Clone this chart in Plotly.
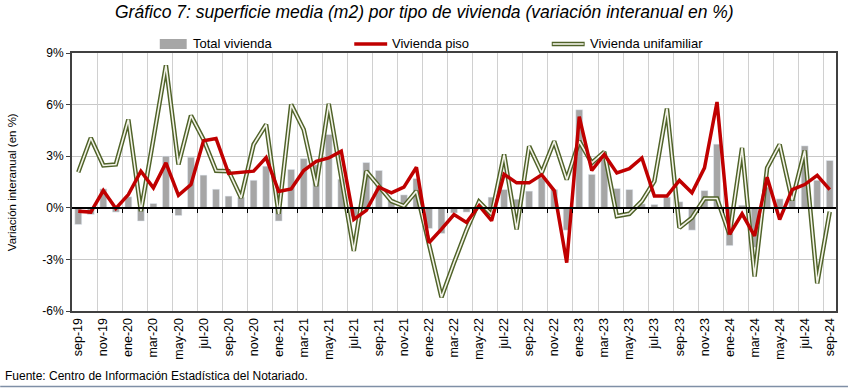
import plotly.graph_objects as go

months = ["sep-19","oct-19","nov-19","dic-19","ene-20","feb-20","mar-20","abr-20","may-20","jun-20","jul-20","ago-20",
          "sep-20","oct-20","nov-20","dic-20","ene-21","feb-21","mar-21","abr-21","may-21","jun-21","jul-21","ago-21",
          "sep-21","oct-21","nov-21","dic-21","ene-22","feb-22","mar-22","abr-22","may-22","jun-22","jul-22","ago-22",
          "sep-22","oct-22","nov-22","dic-22","ene-23","feb-23","mar-23","abr-23","may-23","jun-23","jul-23","ago-23",
          "sep-23","oct-23","nov-23","dic-23","ene-24","feb-24","mar-24","abr-24","may-24","jun-24","jul-24","ago-24",
          "sep-24"]

total_vivienda = [-0.97,-0.39,1.1,-0.25,0.64,-0.77,0.25,3.0,-0.45,2.94,1.9,1.08,
                  0.68,0.6,1.6,2.42,-0.77,2.23,2.86,2.5,4.26,1.66,-0.5,2.63,
                  2.17,0.5,0.75,1.7,-1.2,-1.49,-0.3,-0.25,0.1,0.62,1.06,0.5,
                  0.97,1.74,1.06,-1.3,5.7,1.94,2.8,1.12,1.06,0.23,0.19,0.62,
                  0.35,-1.3,1.0,3.7,-2.2,0.15,-2.3,1.2,0.52,0.8,3.6,1.6,
                  2.75]

vivienda_piso = [-0.2,-0.25,1.0,-0.04,0.77,2.13,1.16,2.61,0.72,1.35,3.9,4.03,
                 2.0,2.07,2.13,2.92,0.95,1.1,2.17,2.7,2.9,3.29,-0.68,-0.15,
                 1.2,0.87,1.2,2.36,-2.03,-1.24,-0.39,-0.85,0.12,-0.75,1.95,1.45,
                 1.45,1.92,1.0,-3.19,5.3,2.17,3.1,2.03,2.28,2.9,0.68,0.68,
                 1.59,0.87,2.32,6.15,-1.55,-0.35,-1.64,1.78,-0.68,1.06,1.35,1.88,
                 1.06]

vivienda_unifamiliar = [2.07,4.06,2.46,2.52,5.13,-0.19,4.0,8.28,2.52,5.36,3.97,2.15,
                        2.13,0.58,3.68,4.84,-0.35,6.0,4.55,1.26,6.04,1.72,-2.5,2.13,
                        1.26,0.39,0.1,0.97,-2.1,-5.2,-3.2,-1.3,0.36,-0.39,3.1,-1.26,
                        3.58,2.03,3.87,1.64,3.87,2.61,3.25,-0.48,-0.35,0.39,1.55,5.77,
                        -1.16,-0.58,0.54,0.54,-1.55,3.48,-4.0,2.32,3.68,0.43,3.33,-4.39,
                        -0.23]

y_ticks = [-6, -3, 0, 3, 6, 9]
y_tick_labels = ["-6%", "-3%", "0%", "3%", "6%", "9%"]

idx = list(range(len(months)))
label_idx = idx[::2]
label_text = [months[i] for i in label_idx]
boundaries = [i + 1.5 for i in range(0, len(months) - 2, 2)]

W, H = 850, 388
L, R, T, B = 72, 12, 53, 77
PW, PH = W - L - R, H - T - B

def px(x):
    return (x - L) / PW

def py(y):
    return (H - B - y) / PH

FONT = "Liberation Sans, Arial, sans-serif"
OLIVE = "#4F6228"
RED = "#C00000"
GRAY = "#A6A6A6"

fig = go.Figure()
fig.add_trace(go.Bar(x=idx, y=total_vivienda, name="Total vivienda", marker_color=GRAY,
                     width=0.55, showlegend=False))
fig.add_trace(go.Scatter(x=idx, y=vivienda_unifamiliar, mode="lines", name="Vivienda unifamiliar",
                         line=dict(color=OLIVE, width=4.5), showlegend=False))
fig.add_trace(go.Scatter(x=idx, y=vivienda_unifamiliar, mode="lines", hoverinfo="skip",
                         line=dict(color="#F4F4EA", width=1.6), showlegend=False))
fig.add_trace(go.Scatter(x=idx, y=vivienda_piso, mode="lines", name="Vivienda piso",
                         line=dict(color=RED, width=3.5), showlegend=False))

xr = [-0.5, len(months) - 0.5]
fig.update_layout(
    width=W, height=H,
    margin=dict(l=L, r=R, t=T, b=B),
    paper_bgcolor="white", plot_bgcolor="white",
    bargap=0.45,
    font=dict(family=FONT, size=11, color="black"),
    xaxis=dict(range=xr, tickmode="array", tickvals=label_idx, ticktext=label_text,
               tickangle=-90, showgrid=False, zeroline=False, ticks="",
               showline=True, linecolor="#404040", linewidth=2, mirror=True,
               tickfont=dict(family=FONT, size=12.5, color="black")),
    xaxis2=dict(range=xr, overlaying="x", anchor="free", position=6 / 15, side="bottom",
                tickmode="array", tickvals=boundaries, showticklabels=False,
                ticks="outside", ticklen=4, tickcolor="black", tickwidth=1,
                showgrid=True, gridcolor="#D0D0D0", gridwidth=1,
                showline=True, linecolor="black", linewidth=1.5, zeroline=False),
    yaxis=dict(range=[-6, 9], tickmode="array", tickvals=y_ticks, ticktext=y_tick_labels,
               showgrid=True, gridcolor="#C8C8C8", gridwidth=1, zeroline=False,
               showline=True, linecolor="#404040", linewidth=2, mirror=True,
               ticks="outside", ticklen=4, tickcolor="#404040",
               tickfont=dict(family=FONT, size=12, color="black")),
)
# invisible trace to keep xaxis2 active
fig.add_trace(go.Scatter(x=[xr[0]], y=[0], xaxis="x2", mode="lines", hoverinfo="skip",
                         line=dict(width=0), showlegend=False))

ann = []
ann.append(dict(text="<i>Gráfico 7: superficie media (m2) por tipo de vivienda (variación interanual en %)</i>",
                xref="paper", yref="paper", x=px(425), y=py(12), showarrow=False,
                xanchor="center", yanchor="middle", font=dict(family=FONT, size=17.5, color="black")))
ann.append(dict(text="Variación interanual (en %)", xref="paper", yref="paper",
                x=px(12), y=py(182), textangle=-90, showarrow=False,
                xanchor="center", yanchor="middle", font=dict(family=FONT, size=11.5)))
ann.append(dict(text="Fuente: Centro de Información Estadística del Notariado.", xref="paper", yref="paper",
                x=px(3), y=py(376), showarrow=False, xanchor="left", yanchor="middle",
                font=dict(family=FONT, size=12)))
# manual legend
leg_y = 44
ann.append(dict(text="Total vivienda", xref="paper", yref="paper", x=px(191), y=py(leg_y),
                showarrow=False, xanchor="left", yanchor="middle", font=dict(family=FONT, size=13)))
ann.append(dict(text="Vivienda piso", xref="paper", yref="paper", x=px(391), y=py(leg_y),
                showarrow=False, xanchor="left", yanchor="middle", font=dict(family=FONT, size=13)))
ann.append(dict(text="Vivienda unifamiliar", xref="paper", yref="paper", x=px(589), y=py(leg_y),
                showarrow=False, xanchor="left", yanchor="middle", font=dict(family=FONT, size=13)))
fig.update_layout(annotations=ann)

shapes = []
shapes.append(dict(type="rect", xref="paper", yref="paper", x0=px(160), x1=px(187),
                   y0=py(leg_y + 5), y1=py(leg_y - 5), fillcolor=GRAY, line=dict(width=0)))
shapes.append(dict(type="line", xref="paper", yref="paper", x0=px(355), x1=px(388),
                   y0=py(leg_y), y1=py(leg_y), line=dict(color=RED, width=3.5)))
shapes.append(dict(type="line", xref="paper", yref="paper", x0=px(553), x1=px(586),
                   y0=py(leg_y), y1=py(leg_y), line=dict(color=OLIVE, width=4.5)))
shapes.append(dict(type="line", xref="paper", yref="paper", x0=px(554), x1=px(585),
                   y0=py(leg_y), y1=py(leg_y), line=dict(color="#F4F4EA", width=1.6)))
shapes.append(dict(type="line", xref="paper", yref="paper", x0=px(0), x1=px(W),
                   y0=py(386.5), y1=py(386.5), line=dict(color="#7F8FA6", width=1.5)))
fig.update_layout(shapes=shapes)

fig.write_html("out.html", config={"displayModeBar": False},
               post_script="document.body.style.margin='0';document.body.style.overflow='hidden';")
